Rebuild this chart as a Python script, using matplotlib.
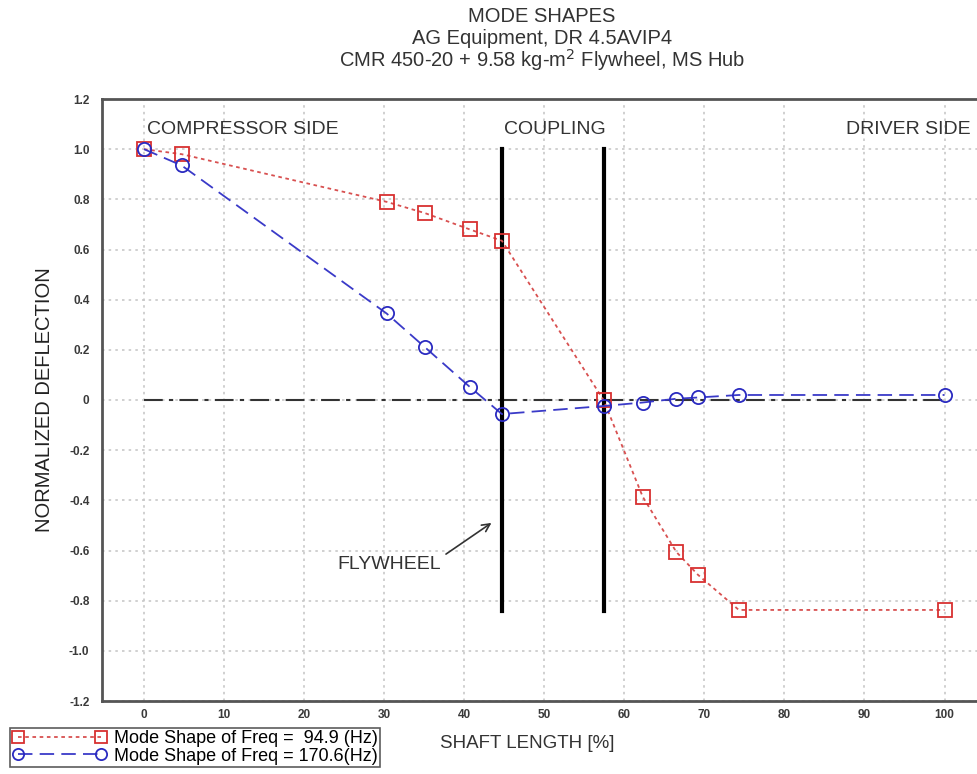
import matplotlib
matplotlib.use("Agg")
import matplotlib.pyplot as plt
import numpy as np

plt.rcParams['font.family'] = ['Liberation Sans', 'DejaVu Sans']

# Data
x_red = [0, 4.7, 30.3, 35.1, 40.7, 44.7, 57.4, 62.3, 66.5, 69.2, 74.3, 100]
y_red = [1.0, 0.98, 0.79, 0.745, 0.68, 0.635, 0.0, -0.386, -0.606, -0.697, -0.837, -0.837]
x_blue = [0, 4.7, 30.3, 35.1, 40.7, 44.7, 57.4, 62.3, 66.5, 69.2, 74.3, 100]
y_blue = [1.0, 0.935, 0.345, 0.21, 0.052, -0.056, -0.024, -0.01, 0.005, 0.01, 0.02, 0.02]
coupling_x = [44.7, 57.4]
coupling_y = [1.0, -0.84]
label_red = "Mode Shape of Freq =  94.9 (Hz)"
label_blue = "Mode Shape of Freq = 170.6(Hz)"
x_ticks = [0, 10, 20, 30, 40, 50, 60, 70, 80, 90, 100]
y_ticks = [-1.2, -1.0, -0.8, -0.6, -0.4, -0.2, 0, 0.2, 0.4, 0.6, 0.8, 1.0, 1.2]
y_ticklabels = ["-1.2", "-1.0", "-0.8", "-0.6", "-0.4", "-0.2", "0", "0.2", "0.4", "0.6", "0.8", "1.0", "1.2"]

fig = plt.figure(figsize=(9.78, 7.74), dpi=100)
ax = fig.add_axes([102/978, 73/774, 1.0 - 102/978 + 0.01, (701-99)/774])
ax.set_xlim(-5.25, 105.4)
ax.set_ylim(-1.2, 1.2)

ax.grid(True, color='#c8c8c8', linestyle=(0, (1.5, 2.5)), linewidth=1.2)
ax.set_axisbelow(True)

ax.set_xticks(x_ticks)
ax.set_yticks(y_ticks)
ax.set_yticklabels(y_ticklabels)
ax.tick_params(length=0, labelsize=8.5, labelcolor='#3a3a3a')
ax.tick_params(axis='x', pad=6)
ax.tick_params(axis='y', pad=9)
for lab in ax.get_xticklabels() + ax.get_yticklabels():
    lab.set_fontweight('bold')
for s in ['left', 'bottom', 'top', 'right']:
    ax.spines[s].set_color('#555555')
    ax.spines[s].set_linewidth(2)

# zero reference line
ax.plot([0, 100], [0, 0], color='#333333', linestyle=(0, (9, 3, 2, 3)), linewidth=1.5, zorder=2)

# coupling lines
for cx in coupling_x:
    ax.plot([cx, cx], coupling_y, color='black', linewidth=3, zorder=3)

l1, = ax.plot(x_red, y_red, color='#d85050', linestyle=(0, (2, 2)), linewidth=1.3,
              marker='s', markersize=10, markerfacecolor='none', markeredgecolor='#d83030',
              markeredgewidth=1.3, zorder=4, label=label_red)
l2, = ax.plot(x_blue, y_blue, color='#3a3ac8', linestyle=(0, (8, 4)), linewidth=1.3,
              marker='o', markersize=9.5, markerfacecolor='none', markeredgecolor='#2a2ac0',
              markeredgewidth=1.3, zorder=5, label=label_blue)

txt_kw = dict(fontsize=14, color='#333333')
ax.text(0.4, 1.08, "COMPRESSOR SIDE", ha='left', va='center', **txt_kw)
ax.text(51.3, 1.08, "COUPLING", ha='center', va='center', **txt_kw)
ax.text(103.2, 1.08, "DRIVER SIDE", ha='right', va='center', **txt_kw)
ax.annotate("FLYWHEEL", xy=(43.4, -0.49), xytext=(30.6, -0.655), ha='center', va='center',
            fontsize=14, color='#333333',
            arrowprops=dict(arrowstyle='->', color='#333333', lw=1.2, shrinkA=0, shrinkB=0,
                            patchA=None, relpos=(1.05, 1.1)))

tx = 542/978
fig.text(tx, 1 - 17/774, "MODE SHAPES", ha='center', va='center', fontsize=14.5, color='#333333')
fig.text(tx, 1 - 38/774, "AG Equipment, DR 4.5AVIP4", ha='center', va='center', fontsize=14.5, color='#333333')
fig.text(tx, 1 - 60/774, "CMR 450-20 + 9.58 kg-m$^2$ Flywheel, MS Hub", ha='center', va='center', fontsize=14.5, color='#333333')

fig.text(45/978, 1 - 400/774, "NORMALIZED DEFLECTION", rotation=90, ha='center', va='center',
         fontsize=14.5, color='#222222')
fig.text(440/978, 1 - 744/774, "SHAFT LENGTH [%]", ha='left', va='center', fontsize=13.5, color='#333333')

leg = fig.legend(handles=[l1, l2], loc='upper left', bbox_to_anchor=(10/978, 1 - 728/774),
                 fontsize=13, frameon=True, fancybox=False, borderpad=0.12, labelspacing=0.02,
                 handlelength=5.2, handletextpad=0.45, borderaxespad=0, numpoints=2,
                 markerscale=0.85)
leg.get_frame().set_edgecolor('#333333')
leg.get_frame().set_linewidth(1.2)

fig.savefig("out.png", dpi=100)
